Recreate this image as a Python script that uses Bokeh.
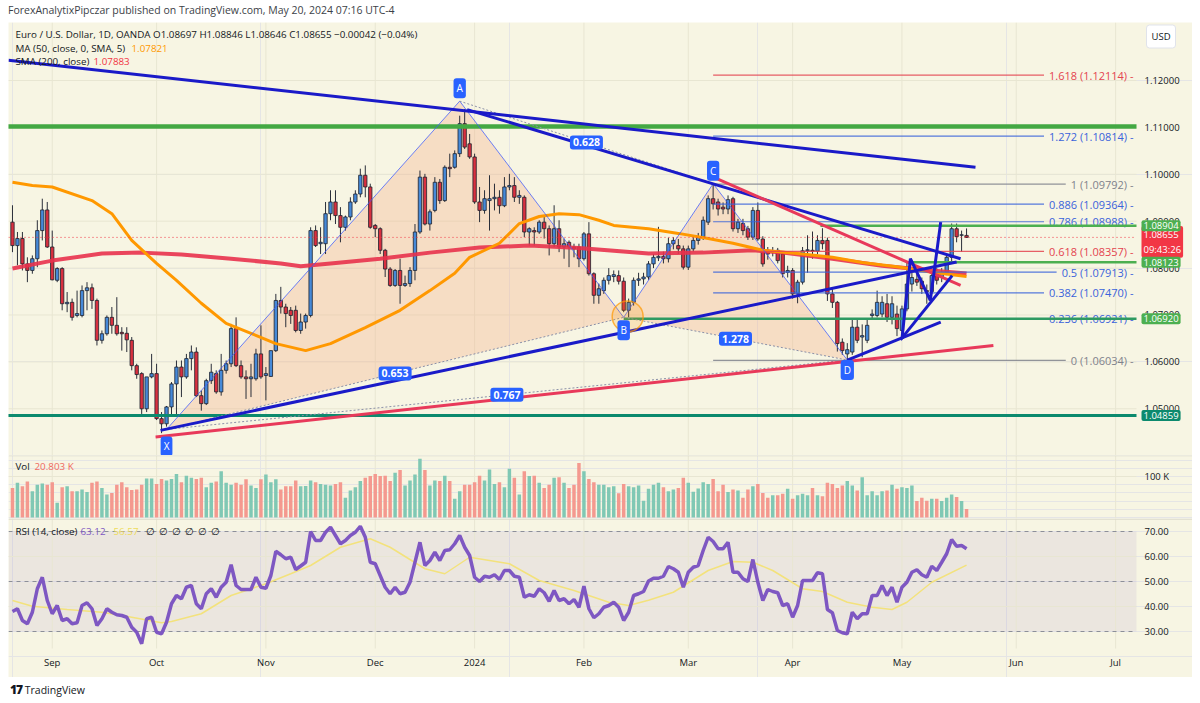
import pandas as pd
from bokeh.plotting import figure
from bokeh.layouts import column
from bokeh.models import Range1d, Label, Div, BoxAnnotation, ColumnDataSource
from bokeh.embed import file_html
from bokeh.resources import INLINE
from bokeh.core.properties import value

# ---------------------------------------------------------------- data
start_date = "2023-08-22"
axis_end_date = "2024-07-31"
holidays = ["2023-12-25", "2024-01-01"]

opens = [1.0898,1.0848,1.0863,1.0809,1.0795,1.0820,1.0880,1.0924,1.0845,1.0774,
 1.0799,1.0724,1.0727,1.0699,1.0699,1.0752,1.0758,1.0731,1.0646,1.0660,
 1.0695,1.0678,1.0663,1.0661,1.0646,1.0592,1.0575,1.0500,1.0568,1.0575,
 1.0479,1.0468,1.0504,1.0553,1.0589,1.0568,1.0607,1.0621,1.0528,1.0511,
 1.0560,1.0575,1.0536,1.0582,1.0596,1.0671,1.0592,1.0568,1.0564,1.0564,
 1.0617,1.0571,1.0569,1.0624,1.0731,1.0717,1.0710,1.0710,1.0667,1.0685,
 1.0699,1.0880,1.0852,1.0852,1.0916,1.0941,1.0912,1.0887,1.0909,1.0941,
 1.0958,1.0998,1.0973,1.0891,1.0884,1.0838,1.0798,1.0763,1.0795,1.0763,
 1.0767,1.0795,1.0877,1.0994,1.0894,1.0923,1.0983,1.0944,1.1015,1.1015,
 1.1044,1.1108,1.1065,1.1037,1.0941,1.0923,1.0944,1.0948,1.0951,1.0933,
 1.0973,1.0976,1.0951,1.0951,1.0877,1.0880,1.0877,1.0898,1.0884,1.0852,
 1.0884,1.0845,1.0855,1.0845,1.0845,1.0820,1.0873,1.0788,1.0742,1.0752,
 1.0774,1.0782,1.0784,1.0772,1.0710,1.0727,1.0774,1.0777,1.0781,1.0809,
 1.0822,1.0825,1.0820,1.0852,1.0848,1.0841,1.0802,1.0841,1.0859,1.0867,
 1.0898,1.0948,1.0941,1.0930,1.0926,1.0948,1.0884,1.0895,1.0884,1.0866,
 1.0923,1.0862,1.0838,1.0834,1.0838,1.0830,1.0791,1.0795,1.0745,1.0770,
 1.0837,1.0838,1.0836,1.0859,1.0859,1.0745,1.0727,1.0642,1.0617,1.0621,
 1.0674,1.0653,1.0646,1.0699,1.0699,1.0702,1.0724,1.0695,1.0702,1.0667,
 1.0713,1.0766,1.0776,1.0772,1.0752,1.0750,1.0788,1.0780,1.0791,1.0823,
 1.0884,1.0870,1.08697]
highs = [1.0934,1.0877,1.0877,1.0823,1.0827,1.0902,1.0948,1.0941,1.0880,1.0802,
 1.0802,1.0749,1.0735,1.0752,1.0763,1.0770,1.0767,1.0735,1.0667,1.0699,
 1.0717,1.0738,1.0674,1.0674,1.0653,1.0596,1.0578,1.0568,1.0617,1.0596,
 1.0493,1.0506,1.0557,1.0603,1.0603,1.0617,1.0635,1.0631,1.0539,1.0564,
 1.0596,1.0582,1.0617,1.0603,1.0681,1.0695,1.0603,1.0582,1.0596,1.0628,
 1.0678,1.0589,1.0624,1.0745,1.0760,1.0724,1.0717,1.0720,1.0703,1.0703,
 1.0887,1.0891,1.0887,1.0941,1.0966,1.0966,1.0930,1.0912,1.0951,1.0966,
 1.1012,1.1019,1.0980,1.0894,1.0887,1.0841,1.0802,1.0798,1.0820,1.0784,
 1.0802,1.0894,1.1008,1.1001,1.0925,1.0994,1.0990,1.1019,1.1044,1.1051,
 1.1125,1.1139,1.1086,1.1044,1.0973,1.0966,1.0998,1.0980,1.0966,1.0994,
 1.1001,1.0994,1.0966,1.0955,1.0887,1.0887,1.0902,1.0909,1.0891,1.0934,
 1.0902,1.0863,1.0859,1.0852,1.0852,1.0877,1.0898,1.0791,1.0767,1.0780,
 1.0800,1.0795,1.0795,1.0780,1.0735,1.0780,1.0790,1.0790,1.0815,1.0830,
 1.0888,1.0835,1.0865,1.0866,1.0862,1.0848,1.0848,1.0866,1.0875,1.0910,
 1.0955,1.0980,1.0948,1.0940,1.0955,1.0952,1.0905,1.0905,1.0890,1.0930,
 1.0940,1.0868,1.0845,1.0845,1.0843,1.0835,1.0805,1.0800,1.0775,1.0845,
 1.0870,1.0878,1.0870,1.0885,1.0865,1.0755,1.0730,1.0650,1.0640,1.0690,
 1.0690,1.0680,1.0690,1.0712,1.0752,1.0740,1.0745,1.0740,1.0720,1.0720,
 1.0812,1.0790,1.0790,1.0780,1.0765,1.0790,1.0800,1.0800,1.0830,1.0895,
 1.0895,1.0880,1.08846]
lows = [1.0834,1.0806,1.0795,1.0770,1.0788,1.0802,1.0859,1.0843,1.0774,1.0770,
 1.0710,1.0706,1.0688,1.0695,1.0695,1.0710,1.0713,1.0635,1.0639,1.0656,
 1.0660,1.0656,1.0624,1.0621,1.0582,1.0564,1.0489,1.0493,1.0565,1.0476,
 1.0448,1.0462,1.0486,1.0483,1.0525,1.0564,1.0582,1.0525,1.0496,1.0508,
 1.0553,1.0532,1.0528,1.0575,1.0589,1.0589,1.0564,1.0521,1.0525,1.0560,
 1.0564,1.0518,1.0568,1.0621,1.0703,1.0674,1.0681,1.0663,1.0660,1.0671,
 1.0695,1.0845,1.0830,1.0830,1.0902,1.0894,1.0855,1.0880,1.0902,1.0937,
 1.0951,1.0951,1.0884,1.0866,1.0830,1.0781,1.0760,1.0760,1.0724,1.0760,
 1.0760,1.0774,1.0873,1.0891,1.0880,1.0919,1.0937,1.0941,1.0994,1.1012,
 1.1037,1.1054,1.1033,1.0937,1.0898,1.0916,1.0880,1.0923,1.0916,1.0930,
 1.0966,1.0941,1.0937,1.0866,1.0848,1.0848,1.0873,1.0863,1.0827,1.0845,
 1.0834,1.0820,1.0802,1.0823,1.0802,1.0816,1.0784,1.0724,1.0724,1.0745,
 1.0765,1.0770,1.0765,1.0706,1.0695,1.0720,1.0762,1.0765,1.0775,1.0800,
 1.0815,1.0810,1.0812,1.0840,1.0830,1.0797,1.0796,1.0835,1.0850,1.0860,
 1.0892,1.0925,1.0912,1.0915,1.0915,1.0878,1.0875,1.0870,1.0860,1.0860,
 1.0858,1.0803,1.0818,1.0825,1.0810,1.0780,1.0780,1.0735,1.0725,1.0765,
 1.0790,1.0820,1.0830,1.0840,1.0730,1.0715,1.0622,1.0615,1.0601,1.0615,
 1.0640,1.0610,1.0640,1.0690,1.0695,1.0695,1.0685,1.0680,1.0655,1.0650,
 1.0708,1.0750,1.0762,1.0745,1.0724,1.0745,1.0765,1.0770,1.0785,1.0813,
 1.0855,1.0835,1.08646]
closes = [1.0848,1.0863,1.0809,1.0795,1.0820,1.0880,1.0924,1.0845,1.0775,1.0799,
 1.0724,1.0727,1.0695,1.0703,1.0752,1.0758,1.0731,1.0646,1.0660,1.0695,
 1.0678,1.0660,1.0660,1.0647,1.0592,1.0573,1.0500,1.0568,1.0575,1.0479,
 1.0468,1.0504,1.0553,1.0589,1.0568,1.0607,1.0621,1.0528,1.0511,1.0560,
 1.0578,1.0536,1.0582,1.0596,1.0671,1.0592,1.0568,1.0564,1.0568,1.0617,
 1.0568,1.0575,1.0624,1.0731,1.0717,1.0703,1.0699,1.0667,1.0685,1.0699,
 1.0880,1.0848,1.0855,1.0916,1.0941,1.0912,1.0887,1.0909,1.0941,1.0958,
 1.0998,1.0973,1.0887,1.0884,1.0838,1.0798,1.0763,1.0795,1.0763,1.0767,
 1.0795,1.0877,1.0994,1.0894,1.0920,1.0983,1.0944,1.1015,1.1012,1.1044,
 1.1108,1.1058,1.1037,1.0941,1.0923,1.0948,1.0948,1.0951,1.0933,1.0973,
 1.0976,1.0951,1.0955,1.0877,1.0884,1.0877,1.0898,1.0884,1.0852,1.0884,
 1.0845,1.0852,1.0845,1.0841,1.0820,1.0873,1.0788,1.0742,1.0756,1.0774,
 1.0784,1.0786,1.0772,1.0710,1.0727,1.0774,1.0777,1.0781,1.0809,1.0823,
 1.0825,1.0820,1.0852,1.0859,1.0841,1.0802,1.0841,1.0859,1.0867,1.0902,
 1.0948,1.0937,1.0926,1.0926,1.0946,1.0884,1.0898,1.0880,1.0866,1.0923,
 1.0862,1.0809,1.0830,1.0837,1.0816,1.0788,1.0795,1.0745,1.0770,1.0837,
 1.0839,1.0836,1.0859,1.0852,1.0745,1.0727,1.0639,1.0624,1.0626,1.0674,
 1.0646,1.0656,1.0678,1.0702,1.0727,1.0727,1.0695,1.0724,1.0671,1.0713,
 1.0766,1.0780,1.0770,1.0756,1.0750,1.0784,1.0774,1.0791,1.0823,1.0884,
 1.0867,1.0871,1.08655]
volumes_k = [72,85,76,88,64,80,83,80,86,36,
 74,76,64,64,68,62,85,88,72,56,
 60,80,86,74,67,68,80,95,95,82,
 94,90,94,106,86,102,97,94,97,74,
 85,88,113,85,80,85,80,93,78,72,
 93,105,86,93,68,76,76,90,76,77,
 90,86,82,80,78,82,86,48,66,74,
 89,97,101,106,101,102,89,109,116,78,
 90,105,143,116,78,90,89,102,89,46,
 64,80,80,86,102,90,117,82,86,74,
 119,97,56,113,101,102,85,72,80,97,
 98,85,72,80,133,113,94,86,80,80,
 74,76,59,82,76,74,78,41,70,80,
 85,74,64,68,72,97,85,63,71,86,
 82,94,64,80,62,68,66,48,68,76,
 82,60,48,54,54,58,70,46,54,58,
 54,72,54,52,85,82,72,78,89,78,
 66,98,54,64,54,64,66,80,70,74,
 72,78,40,48,41,46,46,40,48,56,
 50,40,20.803]
rsi = [38.0,39.1,34.4,33.1,37.7,47.1,51.7,42.4,37.1,40.4,
 34.4,35.1,33.1,33.5,40.4,41.5,39.1,32.4,35.1,39.1,
 37.7,36.7,36.4,35.7,31.7,29.7,25.1,35.1,35.7,29.7,
 29.1,33.7,41.1,44.4,43.1,47.7,48.4,41.1,39.1,45.1,
 47.1,43.7,47.7,49.7,56.7,48.4,46.8,46.8,46.8,51.7,
 47.7,47.3,52.4,62.1,60.7,59.1,59.7,54.8,56.2,57.7,
 70.0,66.4,66.4,69.7,71.7,68.4,65.1,66.4,68.4,69.7,
 72.1,67.7,57.7,57.1,52.4,47.7,45.1,47.7,45.1,45.7,
 49.7,57.7,65.7,56.4,58.4,61.7,58.4,62.4,62.7,65.1,
 68.4,63.7,60.4,51.7,50.0,52.1,51.7,52.7,50.8,54.4,
 54.4,52.1,51.7,43.7,44.7,44.1,47.1,45.5,42.1,46.4,
 42.4,43.1,41.1,42.8,39.7,48.1,39.1,35.5,37.1,39.7,
 40.4,41.7,39.7,34.4,37.7,44.4,45.1,46.0,50.2,51.3,
 51.3,52.1,56.0,55.1,53.7,47.7,53.7,55.7,56.4,62.4,
 67.7,66.0,63.1,63.1,65.7,53.7,53.7,51.1,50.0,58.8,
 49.7,42.4,46.8,46.0,45.5,40.4,41.1,35.7,40.4,50.4,
 50.4,50.4,53.5,53.1,38.8,37.5,30.4,29.5,29.1,37.7,
 35.1,37.1,37.1,44.4,44.4,48.4,44.4,47.7,41.7,47.7,
 49.7,53.7,54.7,52.7,51.7,56.1,54.4,57.7,61.1,66.8,
 64.1,64.4,63.12]

ma50_idx = [0,4,8,16,20,24,29,33,38,43,48,53,59,64,71,78,84,89,92,98,102,106,110,114,
            118,121,128,134,140,145,151,158,165,171,178,185,192]
ma50_val = [1.0983,1.0976,1.0973,1.0944,1.0916,1.0859,1.0810,1.0774,1.0725,1.0682,1.0661,
            1.0639,1.0624,1.0639,1.0673,1.0710,1.0752,1.0789,1.0823,1.0853,1.0895,1.0910,
            1.0916,1.0914,1.0902,1.0891,1.0884,1.0874,1.0863,1.0853,1.0838,1.0831,1.0823,
            1.0812,1.0803,1.0791,1.07821]
sma200_idx = [0,8,18,26,34,44,54,58,64,74,84,94,104,114,128,139,149,155,165,175,185,192]
sma200_val = [1.0799,1.0816,1.0831,1.0833,1.0829,1.0820,1.0810,1.0804,1.0810,1.0820,1.0833,
              1.0844,1.0848,1.0843,1.0831,1.0833,1.0838,1.0833,1.0820,1.0805,1.0795,1.07883]
rsi_ma_idx = [0,4,11,18,24,30,32,38,44,51,56,60,66,72,76,83,87,92,100,106,113,120,124,128,
              133,140,145,149,153,159,163,168,173,177,180,185,192]
rsi_ma_val = [42.4,40.1,38.8,37.7,35.7,33.5,34.0,37.1,44.4,49.1,53.1,56.4,63.7,67.1,63.7,55.1,
              53.1,59.7,57.1,50.4,46.4,41.7,40.4,42.5,45.7,54.4,58.0,57.7,54.4,47.1,46.0,41.7,
              39.7,38.8,41.7,49.7,56.57]

pattern_names = ["X", "A", "B", "C", "D"]
pattern_idx = [31, 90, 123, 141, 168]
pattern_price = [1.0456, 1.1156, 1.0695, 1.0980, 1.0604]
pattern_label_px = [-17, 13, -13, 13, -10]
ratio_pairs = [(0, 2), (1, 3), (2, 4), (0, 4)]
ratio_text = ["0.653", "0.628", "1.278", "0.767"]

fib_ratio = ["1.618", "1.272", "1", "0.886", "0.786", "0.618", "0.5", "0.382", "0.236", "0"]
fib_price = [1.12114, 1.10814, 1.09792, 1.09364, 1.08988, 1.08357, 1.07913, 1.07470, 1.06921, 1.06034]
fib_color = ["#e4434f", "#3a63db", "#80828c", "#3a63db", "#3a63db", "#e4434f",
             "#3a63db", "#3a63db", "#3a63db", "#80828c"]
fib_start_idx = 141

level_price = [1.1102, 1.04859, 1.08904, 1.08123, 1.06920]
level_start = [-1.0, -1.0, 162.6, 180.7, 123.0]
level_color = ["#43a843", "#0c8a6e", "#4caf50", "#4caf50", "#2e9a62"]
level_width = [4.5, 3, 2.5, 2.5, 2.5]
last_price = 1.08655
last_time = "09:43:26"
change_text = "\u22120.00042 (\u22120.04%)"

trend_xs = [[-0.8, 193.8], [91.5, 190.8], [140.8, 190.8], [29.8, 190.0], [28.8, 197.4],
            [168.0, 186.8], [178.7, 189.1], [179.0, 180.7, 184.7, 186.8]]
trend_ys = [[1.1243, 1.1015], [1.1138, 1.0820], [1.0995, 1.0763], [1.0454, 1.0813],
            [1.0440, 1.0635], [1.0604, 1.0685], [1.0647, 1.0784], [1.0649, 1.0820, 1.0731, 1.0898]]
trend_color = ["#1a1ac8", "#1a1ac8", "#e8395a", "#1a1ac8", "#e8395a", "#1a1ac8", "#1a1ac8", "#1a1ac8"]

axis_boxes = [(1.08904, "#4caf50"), (1.08123, "#4caf50"), (1.06920, "#4caf50"), (1.04859, "#0c8a6e")]
price_ticks = [1.05, 1.06, 1.07, 1.08, 1.09, 1.10, 1.11, 1.12]
vol_ticks = [100]
rsi_ticks = [30, 40, 50, 60, 70]
rsi_dashed = [30, 50, 70]

# ---------------------------------------------------------------- layout constants
FONT = "Open Sans"
CREAM = "#f7f5e3"
GRID = "#e8e6d2"
SEP = "#dcdacb"
TXT = "#131722"
W = 1184
DATA_W = 1128
XS, XE = -0.8, 226.2
PPB = DATA_W / (XE - XS)
XF = XS + W / PPB
P_TOP, P_BOT = 1.13237, 1.04004
PRICE_H = 433
V_BOT, V_TOP = -2.44, 151.2
VOL_H = 63
RSI_H = 159
R_PER_PX = 0.4
R_TOP = 70 + 13 * R_PER_PX
R_BOT = R_TOP - RSI_H * R_PER_PX
R_PANE_BOT = R_TOP - 130 * R_PER_PX

all_days = [d for d in pd.bdate_range(start_date, axis_end_date)
            if d.strftime("%Y-%m-%d") not in holidays]
n = len(opens)
idx = list(range(n))
month_ticks, month_names, prev = [], [], None
for i, d in enumerate(all_days):
    key = (d.year, d.month)
    if key != prev:
        if d.day <= 3:
            month_ticks.append(i)
            month_names.append(str(d.year) if d.month == 1 else d.strftime("%b"))
        prev = key

xr = Range1d(XS, XF)


def px2x(px):
    return XS + (px - 8) / PPB


PPX = (P_TOP - P_BOT) / PRICE_H


def py2price(py):
    return P_TOP - (py - 22) * PPX


def py2vol(py):
    return V_TOP - (py - 455) * (V_TOP - V_BOT) / VOL_H


def py2rsi(py):
    return R_TOP - (py - 518) * R_PER_PX


def text_w(s, size):
    w = 0.0
    for ch in s:
        if ch.isdigit():
            w += 0.572
        elif ch in ".,: ":
            w += 0.26
        elif ch in "()":
            w += 0.30
        elif ch == "-":
            w += 0.32
        else:
            w += 0.55
    return w * size


def make_fig(h, yr):
    return figure(width=W, height=h, x_range=xr, y_range=yr, output_backend="svg",
                  toolbar_location=None, x_axis_location=None, y_axis_location=None,
                  min_border=0, background_fill_color=CREAM, border_fill_color=CREAM,
                  outline_line_color=None)


def grid(f, ybot, ytop, yticks):
    f.segment(x0=month_ticks, y0=[ybot] * len(month_ticks), x1=month_ticks,
              y1=[ytop] * len(month_ticks), line_color=GRID, line_width=1)
    if yticks:
        f.segment(x0=[XS] * len(yticks), y0=yticks, x1=[XE] * len(yticks), y1=yticks,
                  line_color=GRID, line_width=1)


def axis_labels(f, ticks, texts, size="9.5px"):
    f.text(x=[px2x(1144)] * len(ticks), y=ticks, text=texts, text_align="left",
           text_baseline="middle", text_font=value(FONT), text_font_size=size, text_color=TXT)


def legend_text(f, x, y, text, color=TXT, size="9.8px"):
    f.add_layout(Label(x=x, y=y, text=text, text_color=color, text_font=FONT,
                       text_font_size=size, text_baseline="middle", text_align="left"))


# ---------------------------------------------------------------- price pane
p = make_fig(PRICE_H, Range1d(P_BOT, P_TOP))
grid(p, P_BOT, P_TOP, price_ticks)

tri_xs = [[pattern_idx[0], pattern_idx[1], pattern_idx[2]], [pattern_idx[2], pattern_idx[3], pattern_idx[4]]]
tri_ys = [[pattern_price[0], pattern_price[1], pattern_price[2]], [pattern_price[2], pattern_price[3], pattern_price[4]]]
p.patches(tri_xs, tri_ys, fill_color="#f2b08a", fill_alpha=0.34, line_color=None)

up = [c >= o for o, c in zip(opens, closes)]
src = ColumnDataSource(dict(
    x=idx,
    h=[max(h, o, c) for h, o, c in zip(highs, opens, closes)],
    l=[min(l, o, c) for l, o, c in zip(lows, opens, closes)],
    top=[max(o, c) for o, c in zip(opens, closes)],
    bot=[min(o, c) for o, c in zip(opens, closes)],
    body=["#4689d8" if u else "#d8303f" for u in up],
    vol=volumes_k,
    vcol=["#80c8b4" if u else "#f4998f" for u in up],
))
p.segment(x0="x", y0="l", x1="x", y1="h", source=src, line_color="#2a2e39", line_width=1)
p.vbar(x="x", width=0.68, top="top", bottom="bot", fill_color="body", line_color="#1e222d",
       line_width=0.8, source=src)

p.line(sma200_idx, sma200_val, line_color="#e8324c", line_width=4, line_alpha=0.9)
p.line(ma50_idx, ma50_val, line_color="#ff9800", line_width=3)

p.segment(x0=[XS], y0=[last_price], x1=[XE], y1=[last_price], line_color="#f23645",
          line_dash="1 3", line_width=1)

fib_labels = [f"{r} ({v:.5f}) -" for r, v in zip(fib_ratio, fib_price)]
fib_right_px = 1133
fib_end = [px2x(fib_right_px - text_w(t, 11) - 5) for t in fib_labels]
p.multi_line(xs=[[fib_start_idx, e] for e in fib_end], ys=[[v, v] for v in fib_price],
             line_color=fib_color, line_width=1.2, line_alpha=0.85)
p.text(x=[px2x(fib_right_px)] * len(fib_price), y=fib_price, text=fib_labels,
       text_align="right", text_baseline="middle", text_font=value(FONT),
       text_font_size="11px", text_color=fib_color)

p.multi_line(xs=[[s, XE] for s in level_start], ys=[[v, v] for v in level_price],
             line_color=level_color, line_width=level_width)

p.line(pattern_idx, pattern_price, line_color="#3d5afe", line_width=1, line_alpha=0.75)
p.multi_line(xs=[[pattern_idx[a], pattern_idx[b]] for a, b in ratio_pairs],
             ys=[[pattern_price[a], pattern_price[b]] for a, b in ratio_pairs],
             line_color="#8b90a8", line_dash="2 2", line_width=1)

p.multi_line(xs=trend_xs, ys=trend_ys, line_color=trend_color, line_width=3)

p.scatter([pattern_idx[2] + 0.8], [pattern_price[2] + 0.0002], size=31, marker="circle",
          fill_color="#ff9800", fill_alpha=0.18, line_color="#ff9800", line_alpha=0.7, line_width=1.5)

for (a, b), t in zip(ratio_pairs, ratio_text):
    p.add_layout(Label(x=(pattern_idx[a] + pattern_idx[b]) / 2, y=(pattern_price[a] + pattern_price[b]) / 2,
                       text=t, text_align="center", text_baseline="middle", text_color="white",
                       text_font=FONT, text_font_size="10.5px", text_font_style="bold",
                       background_fill_color="#2962ff", padding=3, border_radius=3))
for nm, i, pr, off in zip(pattern_names, pattern_idx, pattern_price, pattern_label_px):
    p.add_layout(Label(x=i, y=pr + off * PPX, text=nm, text_align="center",
                       text_baseline="middle", text_color="white", text_font=FONT,
                       text_font_size="10px", background_fill_color="#2962ff",
                       padding=3, border_radius=3))

axis_labels(p, price_ticks, [f"{t:.5f}" for t in price_ticks])
p.add_layout(Label(x=px2x(1141), y=last_price - 4.5 * PPX, text=f"{last_price:.5f}\n{last_time}",
                   text_align="left", text_baseline="middle", text_color="white", text_font=FONT,
                   text_font_size="9.5px", text_line_height=1.15, background_fill_color="#f23645",
                   padding=2, border_radius=2))
for pr, col in axis_boxes:
    p.add_layout(Label(x=px2x(1141), y=pr, text=f"{pr:.5f}", text_align="left",
                       text_baseline="middle", text_color="white", text_font=FONT,
                       text_font_size="9.5px", background_fill_color=col, padding=2,
                       border_radius=2))
p.add_layout(Label(x=px2x(1146), y=py2price(36), text="USD", text_align="left",
                   text_baseline="middle", text_color=TXT, text_font=FONT, text_font_size="9.5px",
                   background_fill_color="white", border_line_color="#e0e3eb", padding=5,
                   border_radius=3))

legend_text(p, px2x(15), py2price(34),
            f"Euro / U.S. Dollar, 1D, OANDA  O{opens[-1]:.5f}  H{highs[-1]:.5f}  "
            f"L{lows[-1]:.5f}  C{closes[-1]:.5f}  {change_text}")
legend_text(p, px2x(15), py2price(48), "MA (50, close, 0, SMA, 5)")
legend_text(p, px2x(131), py2price(48), f"{ma50_val[-1]:.5f}", "#ff9800")
legend_text(p, px2x(15), py2price(61), "SMA (200, close)")
legend_text(p, px2x(93), py2price(61), f"{sma200_val[-1]:.5f}", "#f23645")

# ---------------------------------------------------------------- volume pane
v = make_fig(VOL_H, Range1d(V_BOT, V_TOP))
grid(v, V_BOT, V_TOP, vol_ticks)
v.segment(x0=[XS], y0=[V_TOP - 0.3], x1=[XF], y1=[V_TOP - 0.3], line_color=SEP, line_width=1.5)
v.vbar(x="x", width=0.7, top="vol", bottom=0, fill_color="vcol", line_color=None, source=src)
axis_labels(v, vol_ticks, [f"{t} K" for t in vol_ticks])
legend_text(v, px2x(15), py2vol(466), "Vol")
legend_text(v, px2x(34), py2vol(466), f"{volumes_k[-1]:.3f} K", "#ef6a60")

# ---------------------------------------------------------------- rsi pane
r = make_fig(RSI_H, Range1d(R_BOT, R_TOP))
r.add_layout(BoxAnnotation(left=XS, right=XE, bottom=30, top=70, fill_color="#7e57c2",
                           fill_alpha=0.09, line_color=None, level="underlay"))
grid(r, R_PANE_BOT, R_TOP, [t for t in rsi_ticks if t not in rsi_dashed])
r.segment(x0=[XS], y0=[R_TOP - 0.2], x1=[XF], y1=[R_TOP - 0.2], line_color=SEP, line_width=1.5)
r.segment(x0=[XS] * 3, y0=rsi_dashed, x1=[XE] * 3, y1=rsi_dashed, line_color="#8c8f98",
          line_dash="4 4", line_width=1)
r.line(rsi_ma_idx, rsi_ma_val, line_color="#f3e27c", line_width=1.5)
r.line(idx, rsi, line_color="#7e57c2", line_width=3.5)
axis_labels(r, rsi_ticks, [f"{t:.2f}" for t in rsi_ticks])
r.text(x=month_ticks, y=[py2rsi(662)] * len(month_ticks), text=month_names, text_align="center",
       text_baseline="middle", text_font=value(FONT), text_font_size="9.5px", text_color=TXT)
legend_text(r, px2x(15), 70, "RSI (14, close)")
legend_text(r, px2x(80), 70, f"{rsi[-1]:.2f}", "#7e57c2")
legend_text(r, px2x(113), 70, f"{rsi_ma_val[-1]:.2f}", "#eedc5a")
for k in range(6):
    legend_text(r, px2x(145 + 13 * k), 70, "\u2205")

# ---------------------------------------------------------------- page
header = Div(text="ForexAnalytixPipczar published on TradingView.com, May 20, 2024 07:16 UTC-4",
             width=W, height=22, margin=(0, 0, 0, 0),
             styles={"font-family": FONT, "font-size": "10.5px", "color": "#3c3f48",
                     "line-height": "20px", "background": "white"})
footer = Div(text='<span style="font-weight:900;font-size:12px;letter-spacing:-1px">17</span> TradingView',
             width=W, height=26, margin=(0, 0, 0, 0),
             styles={"font-family": FONT, "font-size": "10.5px", "color": "#131722",
                     "line-height": "26px", "padding-left": "2px"})

layout = column(header, p, v, r, footer, spacing=0, margin=(0, 0, 0, 8))
open("out.html", "w").write(file_html(layout, INLINE))
